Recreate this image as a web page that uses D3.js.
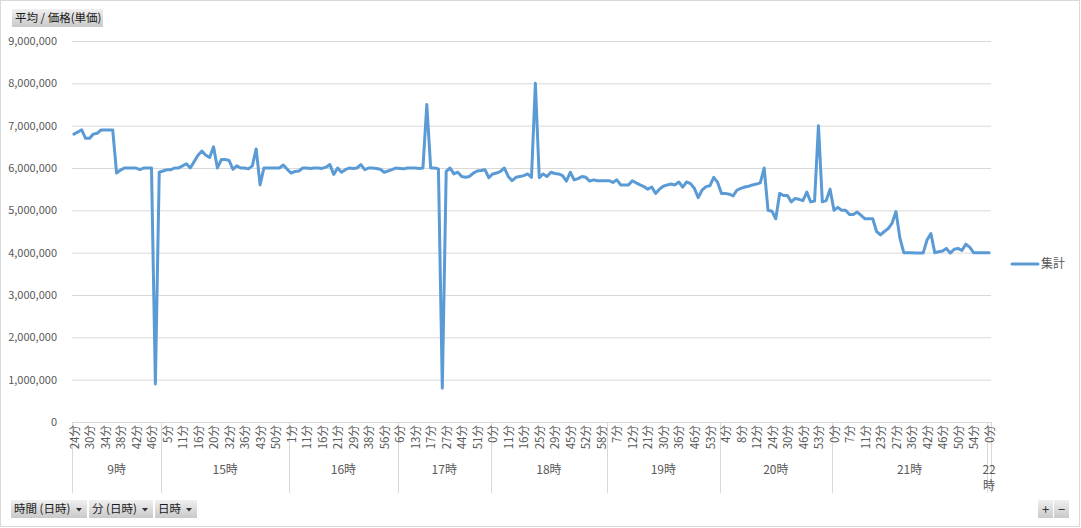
<!DOCTYPE html>
<html lang="ja">
<head>
<meta charset="utf-8">
<title>平均 / 価格(単価)</title>
<script src="https://cdn.jsdelivr.net/npm/d3@7"></script>
<style>
    html, body { margin: 0; padding: 0; background: #fff; }
    svg { display: block; font-family: "Noto Sans CJK JP", "Noto Sans", sans-serif; }
</style>
</head>
<body>
<svg id="chart" width="1081" height="528"></svg>
<script>
// 時(上位カテゴリ)
var hours = ['9時', '15時', '16時', '17時', '18時', '19時', '20時', '21時', '22時'];

// 分(下位カテゴリ) - 時ごと
var minutes9 = [24, 26, 27, 29, 30, 31, 32, 33, 34, 35, 36, 37, 38, 39, 40, 41, 42, 43, 44, 45, 46, 47, 49];
var minutes15 = [2, 5, 6, 8, 9, 11, 12, 14, 15, 16, 17, 18, 19, 20, 22, 25, 28, 32, 33, 34, 35, 36, 38, 40, 41, 43, 45, 47, 48, 50, 52, 55, 58];
var minutes16 = [1, 3, 6, 9, 11, 12, 14, 15, 16, 17, 19, 20, 21, 23, 25, 27, 29, 31, 33, 35, 38, 41, 45, 50, 56, 57, 58, 59];
var minutes17 = [6, 8, 10, 11, 13, 14, 15, 16, 17, 19, 21, 24, 27, 30, 35, 40, 44, 46, 48, 49, 51, 53, 55, 58];
var minutes18 = [0, 2, 5, 8, 11, 12, 14, 15, 16, 18, 20, 23, 25, 26, 27, 28, 29, 32, 36, 41, 45, 47, 49, 51, 52, 54, 55, 57, 58, 59];
var minutes19 = [2, 5, 7, 8, 10, 11, 12, 14, 17, 19, 21, 23, 26, 28, 30, 31, 33, 34, 36, 38, 41, 44, 46, 48, 50, 51, 53, 55, 58];
var minutes20 = [1, 4, 5, 6, 7, 8, 9, 10, 11, 12, 14, 17, 21, 24, 26, 27, 29, 30, 33, 38, 42, 46, 48, 50, 52, 53, 55, 57, 59];
var minutes21 = [0, 2, 4, 6, 7, 8, 9, 10, 11, 14, 17, 20, 23, 24, 25, 26, 27, 29, 31, 34, 36, 38, 39, 41, 42, 43, 44, 45, 46, 47, 48, 49, 50, 51, 52, 53, 54, 56, 58, 59];
var minutes22 = [0];

// 平均価格(単価)、単位: 百万
var values9 = [6.80, 6.85, 6.90, 6.70, 6.70, 6.80, 6.82, 6.90, 6.90, 6.90, 6.90, 5.88, 5.95, 6.00, 6.00, 6.00, 6.00, 5.96, 6.00, 6.00, 6.00, 0.90, 5.90];
var values15 = [5.93, 5.96, 5.96, 6.00, 6.00, 6.05, 6.10, 6.00, 6.15, 6.30, 6.40, 6.30, 6.25, 6.50, 6.00, 6.20, 6.20, 6.18, 5.97, 6.05, 6.00, 6.00, 5.98, 6.05, 6.45, 5.60, 6.00, 6.00, 6.00, 6.00, 6.00, 6.07, 5.97];
var values16 = [5.88, 5.92, 5.93, 6.00, 6.00, 5.99, 6.00, 6.00, 5.99, 6.02, 6.08, 5.85, 6.00, 5.90, 5.96, 6.00, 5.99, 6.00, 6.08, 5.96, 6.00, 6.00, 5.99, 5.97, 5.90, 5.93, 5.96, 6.00];
var values17 = [5.99, 5.98, 6.00, 6.00, 6.00, 5.99, 6.00, 7.50, 6.00, 6.00, 5.98, 0.80, 5.92, 6.00, 5.86, 5.90, 5.80, 5.78, 5.80, 5.88, 5.93, 5.94, 5.96, 5.77];
var values18 = [5.86, 5.88, 5.92, 6.00, 5.80, 5.70, 5.78, 5.80, 5.82, 5.86, 5.78, 8.00, 5.77, 5.86, 5.80, 5.90, 5.87, 5.86, 5.82, 5.69, 5.90, 5.72, 5.75, 5.80, 5.78, 5.69, 5.72, 5.70, 5.70, 5.70];
var values19 = [5.70, 5.66, 5.72, 5.60, 5.60, 5.60, 5.70, 5.65, 5.60, 5.56, 5.50, 5.55, 5.40, 5.50, 5.57, 5.60, 5.62, 5.60, 5.67, 5.55, 5.67, 5.63, 5.52, 5.30, 5.48, 5.56, 5.58, 5.78, 5.66];
var values20 = [5.40, 5.40, 5.38, 5.34, 5.48, 5.52, 5.55, 5.57, 5.60, 5.62, 5.65, 6.00, 5.00, 4.98, 4.80, 5.40, 5.35, 5.35, 5.20, 5.28, 5.26, 5.23, 5.43, 5.20, 5.22, 7.00, 5.20, 5.23, 5.50];
var values21 = [5.00, 5.07, 5.00, 5.00, 4.90, 4.90, 4.96, 4.88, 4.80, 4.80, 4.80, 4.50, 4.42, 4.50, 4.57, 4.70, 4.97, 4.35, 4.00, 4.00, 4.00, 3.99, 3.99, 3.99, 4.30, 4.45, 4.00, 4.02, 4.04, 4.10, 3.99, 4.08, 4.10, 4.05, 4.20, 4.13, 4.00, 4.00, 4.00, 4.00];
var values22 = [4.00];

var yTicks = [0, 1, 2, 3, 4, 5, 6, 7, 8, 9];
var seriesName = '集計';
var fieldTitle = '平均 / 価格(単価)';
var rowFields = ['時間 (日時)', '分 (日時)', '日時'];

(function () {
    'use strict';

    var W = 1081;
    var H = 528;
    var PLOT = { left: 72, right: 991, top: 41, bottom: 422 };
    var LABEL_EVERY = 4;

    var TEXT = '#595959';
    var GRID = '#d9d9d9';
    var LINE = '#5b9bd5';

    var minuteGroups = [minutes9, minutes15, minutes16, minutes17, minutes18, minutes19, minutes20, minutes21, minutes22];
    var valueGroups = [values9, values15, values16, values17, values18, values19, values20, values21, values22];

    // platte lijst van categorieën
    var cats = [];
    var groups = [];
    minuteGroups.forEach(function (mins, g) {
        var start = cats.length;
        mins.forEach(function (m, j) {
            cats.push({ i: cats.length, hour: hours[g], minute: m, value: valueGroups[g][j] });
        });
        groups.push({ label: hours[g], start: start, end: cats.length - 1 });
    });

    var svg = d3.select('#chart');

    var defs = svg.append('defs');
    var grad = defs.append('linearGradient')
        .attr('id', 'btn')
        .attr('x1', 0).attr('y1', 0).attr('x2', 0).attr('y2', 1);
    grad.append('stop').attr('offset', '0%').attr('stop-color', '#f0f0f0');
    grad.append('stop').attr('offset', '100%').attr('stop-color', '#c9c9c9');

    svg.append('rect')
        .attr('x', 0.5).attr('y', 0.5)
        .attr('width', W - 2).attr('height', H - 2)
        .attr('fill', '#fff')
        .attr('stroke', GRID);

    var x = d3.scaleBand()
        .domain(cats.map(function (d) { return d.i; }))
        .range([PLOT.left, PLOT.right])
        .padding(0);
    var bw = x.bandwidth();
    function cx(i) { return x(i) + bw / 2; }

    var y = d3.scaleLinear()
        .domain([0, 9])
        .range([PLOT.bottom, PLOT.top]);

    // raster + y-labels
    var yAxis = d3.axisLeft(y)
        .tickValues(yTicks)
        .tickSize(-(PLOT.right - PLOT.left))
        .tickPadding(15)
        .tickFormat(function (d) { return d3.format(',')(d * 1000000); });

    var gy = svg.append('g')
        .attr('transform', 'translate(' + PLOT.left + ',0)')
        .call(yAxis);
    gy.select('.domain').remove();
    gy.selectAll('.tick line').attr('stroke', GRID).attr('stroke-width', 1);
    gy.selectAll('.tick text')
        .attr('fill', TEXT)
        .attr('font-size', 11)
        .attr('font-family', '"Noto Sans CJK JP", sans-serif');

    // categorie-as, twee niveaus
    var gx = svg.append('g').attr('class', 'x-axis');
    var sepTop = PLOT.bottom;
    var sepBottom = 493;

    var seps = groups.map(function (g) { return x(g.start); });
    seps.push(PLOT.right);
    gx.selectAll('line.sep')
        .data(seps)
        .join('line')
        .attr('class', 'sep')
        .attr('x1', function (d) { return Math.round(d) + 0.5; })
        .attr('x2', function (d) { return Math.round(d) + 0.5; })
        .attr('y1', sepTop)
        .attr('y2', sepBottom)
        .attr('stroke', GRID);

    gx.selectAll('text.minute')
        .data(cats.filter(function (d) { return d.i % LABEL_EVERY === 0; }))
        .join('text')
        .attr('class', 'minute')
        .attr('transform', function (d) { return 'translate(' + (cx(d.i) + 0.5) + ',' + (PLOT.bottom + 3) + ') rotate(-90)'; })
        .attr('text-anchor', 'end')
        .attr('dy', '0.36em')
        .attr('fill', TEXT)
        .attr('font-size', 11.5)
        .text(function (d) { return d.minute + '分'; });

    groups.forEach(function (g) {
        var gx0 = x(g.start);
        var gx1 = x(g.end) + bw;
        var mid = (gx0 + gx1) / 2;
        var t = gx.append('text')
            .attr('class', 'hour')
            .attr('text-anchor', 'middle')
            .attr('fill', TEXT)
            .attr('font-size', 12);
        if (gx1 - gx0 < 20) {
            // te smal: afbreken zoals Excel
            t.attr('x', mid).attr('y', 474);
            t.append('tspan').attr('x', mid).attr('dy', 0).text(g.label.replace('時', ''));
            t.append('tspan').attr('x', mid).attr('dy', 16).text('時');
        } else {
            t.attr('x', mid).attr('y', 474).text(g.label);
        }
    });

    // lijn
    var line = d3.line()
        .x(function (d) { return cx(d.i); })
        .y(function (d) { return y(d.value); });

    svg.append('path')
        .datum(cats)
        .attr('fill', 'none')
        .attr('stroke', LINE)
        .attr('stroke-width', 3)
        .attr('stroke-linejoin', 'round')
        .attr('stroke-linecap', 'round')
        .attr('d', line);

    // legenda
    var lg = svg.append('g').attr('transform', 'translate(1012,264)');
    lg.append('line')
        .attr('x1', 0).attr('x2', 26)
        .attr('stroke', LINE).attr('stroke-width', 3).attr('stroke-linecap', 'round');
    lg.append('text')
        .attr('x', 29).attr('dy', '0.36em')
        .attr('fill', TEXT).attr('font-size', 12)
        .text(seriesName);

    // knoppen
    function button(bx, by, bwid, label, arrow) {
        var b = svg.append('g').attr('transform', 'translate(' + bx + ',' + by + ')');
        b.append('rect')
            .attr('width', bwid).attr('height', 18)
            .attr('fill', 'url(#btn)');
        b.append('text')
            .attr('x', 3).attr('y', 9).attr('dy', '0.36em')
            .attr('fill', '#1a1a1a').attr('font-size', 11.5)
            .text(label);
        if (arrow) {
            b.append('path')
                .attr('d', 'M' + (bwid - 11) + ',8 l6,0 l-3,3.5 z')
                .attr('fill', '#333');
        }
        return b;
    }

    button(12, 9, 91, fieldTitle, false);
    var bx = 11;
    var widths = [76, 64, 42];
    rowFields.forEach(function (f, k) {
        button(bx, 500, widths[k], f, true);
        bx += widths[k] + 2;
    });

    [['+', 1038], ['−', 1054]].forEach(function (p) {
        var b = svg.append('g').attr('transform', 'translate(' + p[1] + ',500)');
        b.append('rect').attr('width', 15).attr('height', 18).attr('fill', 'url(#btn)');
        b.append('text')
            .attr('x', 7.5).attr('y', 9).attr('dy', '0.36em')
            .attr('text-anchor', 'middle')
            .attr('fill', '#333').attr('font-size', 13)
            .text(p[0]);
    });
})();
</script>
</body>
</html>
